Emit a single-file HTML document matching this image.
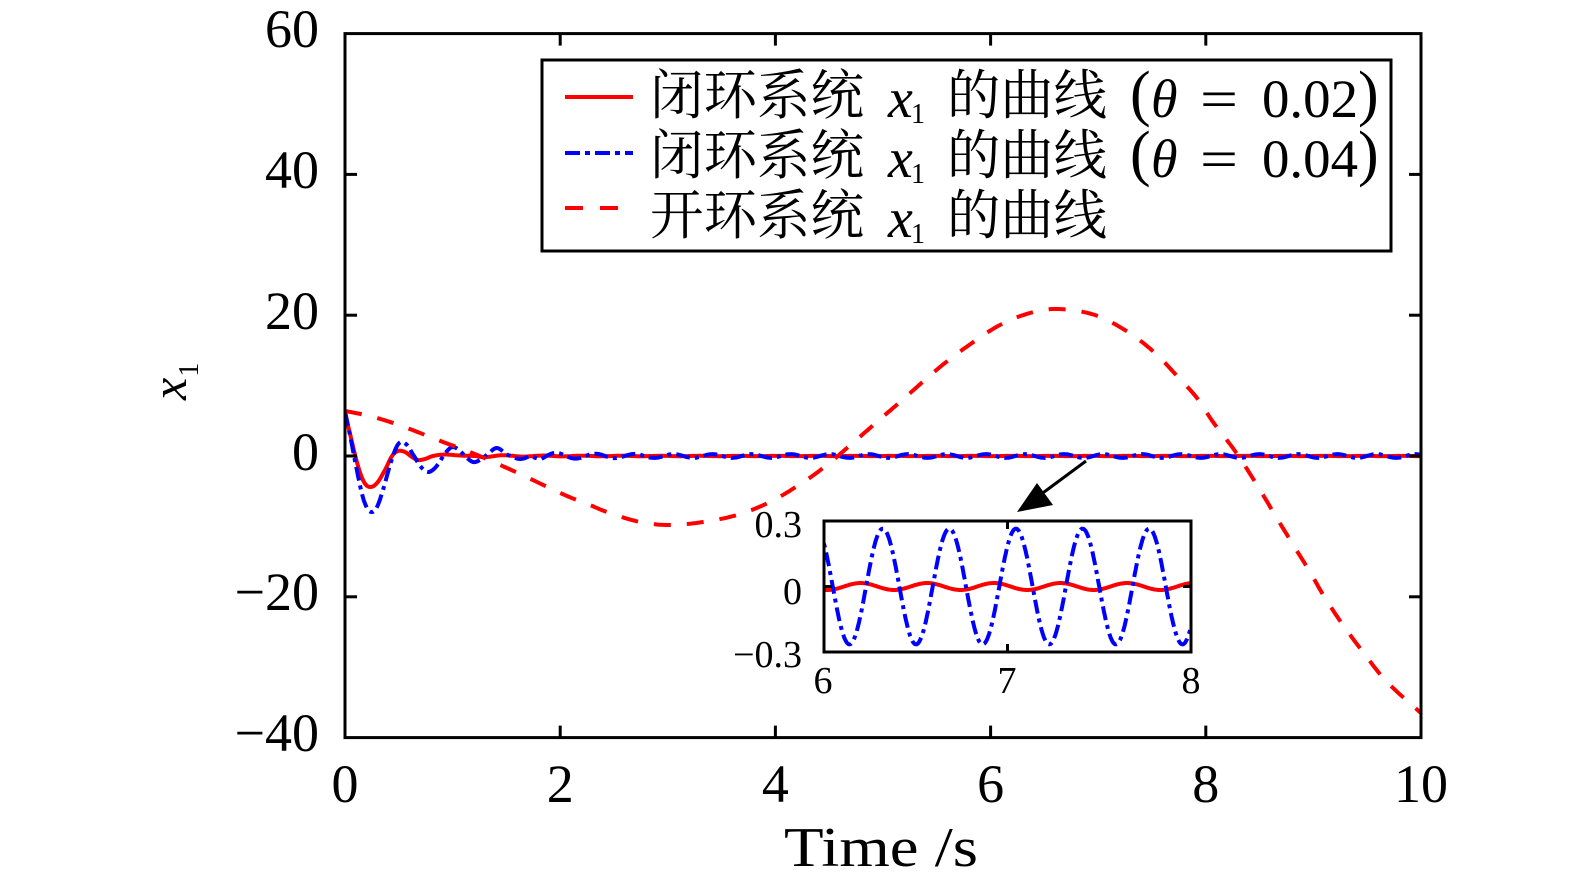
<!DOCTYPE html>
<html>
<head>
<meta charset="utf-8">
<style>
html,body{margin:0;padding:0;background:#fff;}
svg{display:block;}
text{font-family:"Liberation Serif","Noto Serif CJK SC",serif;fill:#000;}
.cjk{font-family:"Noto Serif CJK SC","Liberation Serif",serif;}
</style>
</head>
<body>
<svg width="1575" height="882" viewBox="0 0 1575 882" xmlns="http://www.w3.org/2000/svg">
<defs>
  <clipPath id="mc"><rect x="345" y="33.6" width="1076" height="704"/></clipPath>
  <clipPath id="ic"><rect x="824" y="521" width="367" height="131"/></clipPath>
</defs>
<rect x="0" y="0" width="1575" height="882" fill="#fff"/>

<!-- main curves -->
<g clip-path="url(#mc)">
  <path id="rs" fill="none" stroke="#ff0000" stroke-width="4" stroke-linejoin="round"/>
  <path id="bd" fill="none" stroke="#0000ff" stroke-width="4" stroke-dasharray="14 5 4 5"/>
  <path id="rd" fill="none" stroke="#ff0000" stroke-width="4" stroke-dasharray="17 16"/>
</g>

<!-- main axes box -->
<rect x="345" y="33.6" width="1076" height="704" fill="none" stroke="#000" stroke-width="3"/>
<g stroke="#000" stroke-width="3">
  <!-- x ticks bottom/top -->
  <line x1="560.2" y1="737.6" x2="560.2" y2="725.6"/><line x1="560.2" y1="33.6" x2="560.2" y2="45.6"/>
  <line x1="775.4" y1="737.6" x2="775.4" y2="725.6"/><line x1="775.4" y1="33.6" x2="775.4" y2="45.6"/>
  <line x1="990.6" y1="737.6" x2="990.6" y2="725.6"/><line x1="990.6" y1="33.6" x2="990.6" y2="45.6"/>
  <line x1="1205.8" y1="737.6" x2="1205.8" y2="725.6"/><line x1="1205.8" y1="33.6" x2="1205.8" y2="45.6"/>
  <!-- y ticks left/right -->
  <line x1="345" y1="174.4" x2="357" y2="174.4"/><line x1="1421" y1="174.4" x2="1409" y2="174.4"/>
  <line x1="345" y1="315.2" x2="357" y2="315.2"/><line x1="1421" y1="315.2" x2="1409" y2="315.2"/>
  <line x1="345" y1="456" x2="357" y2="456"/><line x1="1421" y1="456" x2="1409" y2="456"/>
  <line x1="345" y1="596.8" x2="357" y2="596.8"/><line x1="1421" y1="596.8" x2="1409" y2="596.8"/>
</g>

<!-- y tick labels -->
<g font-size="54" text-anchor="end">
  <text x="319" y="47">60</text>
  <text x="319" y="188">40</text>
  <text x="319" y="329">20</text>
  <text x="319" y="470">0</text>
  <text x="319" y="610">−20</text>
  <text x="319" y="751">−40</text>
</g>
<!-- x tick labels -->
<g font-size="54" text-anchor="middle">
  <text x="345" y="802">0</text>
  <text x="560.2" y="802">2</text>
  <text x="775.4" y="802">4</text>
  <text x="990.6" y="802">6</text>
  <text x="1205.8" y="802">8</text>
  <text x="1421" y="802">10</text>
</g>
<!-- axis labels -->
<text x="784" y="866" font-size="56" textLength="194" lengthAdjust="spacingAndGlyphs">Time /s</text>
<text transform="translate(186,400) rotate(-90)" font-size="50" font-style="italic">x<tspan font-size="28" font-style="normal" dx="1" dy="12">1</tspan></text>

<!-- legend -->
<rect x="542" y="60" width="849" height="191" fill="#fff" stroke="#000" stroke-width="3"/>
<line x1="565" y1="97" x2="633" y2="97" stroke="#ff0000" stroke-width="4"/>
<line x1="565" y1="153" x2="633" y2="153" stroke="#0000ff" stroke-width="4" stroke-dasharray="15 5 5 5"/>
<line x1="565" y1="208" x2="633" y2="208" stroke="#ff0000" stroke-width="4" stroke-dasharray="18 17"/>

<g font-size="54">
  <!-- row 1 -->
  <text class="cjk" x="650" y="114" textLength="214" lengthAdjust="spacingAndGlyphs">闭环系统</text>
  <text x="888" y="117" font-style="italic" font-size="56">x</text>
  <text x="911" y="123" font-size="28">1</text>
  <text class="cjk" x="947" y="114" textLength="160" lengthAdjust="spacingAndGlyphs">的曲线</text>
  <text x="1130" y="114" font-size="62">(</text>
  <text x="1151" y="117" font-style="italic">θ</text>
  <text x="1200" y="117" textLength="38" lengthAdjust="spacingAndGlyphs">=</text>
  <text x="1262" y="117" textLength="96" lengthAdjust="spacingAndGlyphs">0.02</text>
  <text x="1358" y="114" font-size="62">)</text>
  <!-- row 2 -->
  <text class="cjk" x="650" y="174" textLength="214" lengthAdjust="spacingAndGlyphs">闭环系统</text>
  <text x="888" y="177" font-style="italic" font-size="56">x</text>
  <text x="911" y="183" font-size="28">1</text>
  <text class="cjk" x="947" y="174" textLength="160" lengthAdjust="spacingAndGlyphs">的曲线</text>
  <text x="1130" y="174" font-size="62">(</text>
  <text x="1151" y="177" font-style="italic">θ</text>
  <text x="1200" y="177" textLength="38" lengthAdjust="spacingAndGlyphs">=</text>
  <text x="1262" y="177" textLength="96" lengthAdjust="spacingAndGlyphs">0.04</text>
  <text x="1358" y="174" font-size="62">)</text>
  <!-- row 3 -->
  <text class="cjk" x="650" y="234" textLength="214" lengthAdjust="spacingAndGlyphs">开环系统</text>
  <text x="888" y="237" font-style="italic" font-size="56">x</text>
  <text x="911" y="243" font-size="28">1</text>
  <text class="cjk" x="947" y="234" textLength="160" lengthAdjust="spacingAndGlyphs">的曲线</text>
</g>

<!-- arrow -->
<line x1="1086" y1="461" x2="1036" y2="498" stroke="#000" stroke-width="3"/>
<polygon points="1017,512 1037,483 1053,505" fill="#000"/>

<!-- inset -->
<rect x="824" y="521" width="367" height="131" fill="#fff"/>
<g clip-path="url(#ic)">
  <path id="irs" fill="none" stroke="#ff0000" stroke-width="4"/>
  <path id="ibd" fill="none" stroke="#0000ff" stroke-width="4" stroke-dasharray="14 5 4 5"/>
</g>
<rect x="824" y="521" width="367" height="131" fill="none" stroke="#000" stroke-width="3"/>
<g stroke="#000" stroke-width="3">
  <line x1="1007.5" y1="521" x2="1007.5" y2="529"/>
  <line x1="1007.5" y1="652" x2="1007.5" y2="644"/>
  <line x1="824" y1="586.5" x2="832" y2="586.5"/>
  <line x1="1191" y1="586.5" x2="1183" y2="586.5"/>
</g>
<g font-size="38" text-anchor="end">
  <text x="802" y="537">0.3</text>
  <text x="802" y="604">0</text>
  <text x="802" y="667">−0.3</text>
</g>
<g font-size="38" text-anchor="middle">
  <text x="823" y="693">6</text>
  <text x="1007" y="693">7</text>
  <text x="1191" y="693">8</text>
</g>
</svg>

<script>
(function(){
  function cr(pts,n){
    var out=[];
    for(var i=0;i<pts.length-1;i++){
      var p0=pts[Math.max(i-1,0)],p1=pts[i],p2=pts[i+1],p3=pts[Math.min(i+2,pts.length-1)];
      for(var k=0;k<n;k++){
        var s=k/n,s2=s*s,s3=s2*s;
        var f=function(a,b,c,d){return 0.5*((2*b)+(-a+c)*s+(2*a-5*b+4*c-d)*s2+(-a+3*b-3*c+d)*s3);};
        out.push([f(p0[0],p1[0],p2[0],p3[0]),f(p0[1],p1[1],p2[1],p3[1])]);
      }
    }
    out.push(pts[pts.length-1]);
    return out;
  }
  function d(pts){return 'M'+pts.map(function(p){return p[0].toFixed(1)+','+p[1].toFixed(1);}).join('L');}
  var X=function(t){return 345+107.6*t;}, Y=function(v){return 456-7.04*v;};
  var P=0.363;

  // red solid (theta=0.02)
  var rsP=[[345,412],[351,438],[358,466],[364,482],[370,487],[377,483],[385,470],[392,456],[398,451],[405,452],[412,457],[418,460],[425,459],[433,456],[445,454.5],[460,455.5],[475,456]];
  var rs=cr(rsP,8);
  for(var t=(480-345)/107.6;t<=10.02;t+=0.01){
    var v=(0.02+0.15*Math.exp(-2*(t-1.25)))*Math.cos(2*Math.PI*(t-6.2)/P);
    rs.push([X(t),Y(v)]);
  }
  document.getElementById('rs').setAttribute('d',d(rs));

  // blue dash-dot (theta=0.04)
  var bP=[[345,412],[350,435],[356,466],[362,494],[367,508],[372,512],[377,507],[383,490],[390,465],[396,448],[401,442],[407,445],[414,456],[421,467],[428,472],[435,468],[442,458],[448,450],[453,447],[459,450],[466,457],[473,462],[480,460],[488,454],[497,448],[508,455],[520,459],[530,456]];
  var b=cr(bP,8);
  for(var t2=(540-345)/107.6;t2<=10.02;t2+=0.008){
    var v2=(0.265+0.3*Math.exp(-3*(t2-1.8)))*Math.cos(2*Math.PI*(t2-6.32)/P);
    b.push([X(t2),Y(v2)]);
  }
  document.getElementById('bd').setAttribute('d',d(b));

  // red dashed open loop
  var rdP=[[345,411],[365,415],[387,421],[415,431],[443,442],[470,452],[507,468],[537,482],[567,496],[590,505],[607,512],[640,522],[670,525],[703,522],[737,515],[770,502],[802,483],[827,465],[847,448],[870,428],[900,402],[940,367],[972,343],[1000,325],[1030,313],[1058,309],[1095,315],[1128,332],[1155,353],[1178,377],[1197,398],[1213,422],[1235,451],[1257,485],[1275,515],[1292,543],[1310,572],[1325,598],[1343,625],[1363,652],[1387,682],[1421,713]];
  document.getElementById('rd').setAttribute('d',d(cr(rdP,10)));

  // inset
  var IX=function(t){return 824+183.5*(t-6);}, IY=function(v){return 586.5-218.3*v;};
  var ib=[],ir=[];
  for(var t3=5.95;t3<=8.05;t3+=0.004){
    ib.push([IX(t3),IY(0.265*Math.cos(2*Math.PI*(t3-6.32)/P))]);
    ir.push([IX(t3),IY(0.016*Math.cos(2*Math.PI*(t3-6.2)/P))]);
  }
  document.getElementById('ibd').setAttribute('d',d(ib));
  document.getElementById('irs').setAttribute('d',d(ir));
})();
</script>
</body>
</html>
